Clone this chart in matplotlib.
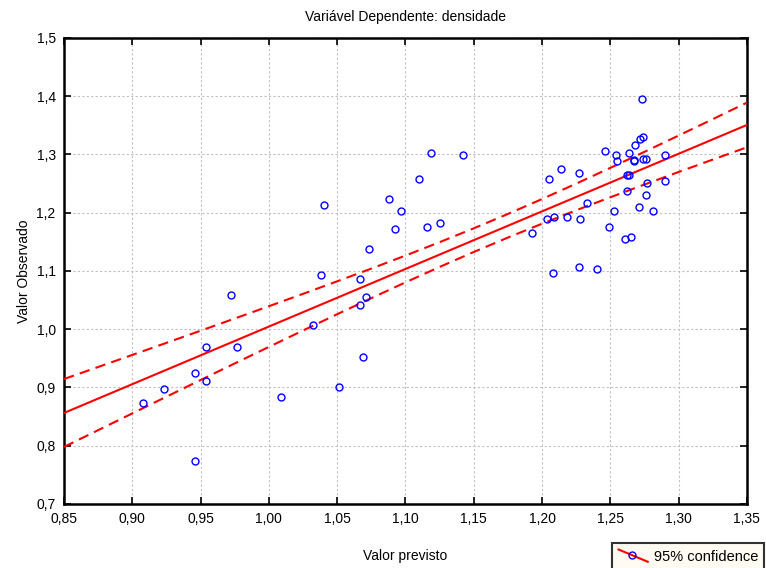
import numpy as np
import matplotlib.pyplot as plt
from matplotlib.lines import Line2D
from matplotlib.legend_handler import HandlerBase

plt.rcParams['font.family'] = ['Liberation Sans', 'DejaVu Sans']

valor_previsto = [
    0.972, 0.954, 0.977, 0.946, 0.954, 0.923, 0.908, 1.009, 0.946,
    1.119, 1.142, 1.110, 1.040, 1.088, 1.097, 1.092, 1.116, 1.125, 1.073,
    1.038, 1.067, 1.071, 1.067, 1.032, 1.069, 1.051,
    1.273, 1.274, 1.272, 1.268, 1.246, 1.254, 1.264, 1.290, 1.255, 1.267,
    1.267, 1.274, 1.276, 1.214, 1.227, 1.205, 1.262, 1.264, 1.277, 1.290,
    1.262, 1.276, 1.233, 1.271, 1.253, 1.281, 1.204, 1.209, 1.218, 1.228,
    1.193, 1.249, 1.261, 1.265, 1.208, 1.227, 1.240,
]
valor_observado = [
    1.059, 0.969, 0.969, 0.925, 0.911, 0.897, 0.873, 0.884, 0.774,
    1.303, 1.299, 1.258, 1.213, 1.224, 1.203, 1.172, 1.176, 1.182, 1.138,
    1.093, 1.086, 1.055, 1.042, 1.007, 0.952, 0.901,
    1.395, 1.330, 1.327, 1.316, 1.306, 1.299, 1.303, 1.299, 1.289, 1.291,
    1.289, 1.292, 1.292, 1.275, 1.268, 1.258, 1.265, 1.265, 1.251, 1.255,
    1.237, 1.230, 1.217, 1.210, 1.203, 1.203, 1.190, 1.193, 1.193, 1.189,
    1.165, 1.176, 1.155, 1.158, 1.097, 1.107, 1.103,
]

x_ticks = [0.85, 0.90, 0.95, 1.00, 1.05, 1.10, 1.15, 1.20, 1.25, 1.30, 1.35]
x_labels = ['0,85', '0,90', '0,95', '1,00', '1,05', '1,10', '1,15', '1,20',
            '1,25', '1,30', '1,35']
y_ticks = [0.7, 0.8, 0.9, 1.0, 1.1, 1.2, 1.3, 1.4, 1.5]
y_labels = ['0,7', '0,8', '0,9', '1,0', '1,1', '1,2', '1,3', '1,4', '1,5']

x = np.array(valor_previsto)
y = np.array(valor_observado)

# least squares fit and 95% confidence band of the mean
n = len(x)
slope, intercept = np.polyfit(x, y, 1)
resid = y - (intercept + slope * x)
s = np.sqrt(np.sum(resid ** 2) / (n - 2))
sxx = np.sum((x - x.mean()) ** 2)
t = 2.0
xs = np.linspace(0.85, 1.35, 21)
fit = intercept + slope * xs
half = t * s * np.sqrt(1 / n + (xs - x.mean()) ** 2 / sxx)


class DiagonalHandler(HandlerBase):
    # red line going down to the right with a blue ring on it
    def create_artists(self, legend, orig_handle, xdescent, ydescent,
                       width, height, fontsize, trans):
        line = Line2D([0, width], [height * 1.1, -height * 0.1],
                      color='#ff0000', linewidth=1.5, transform=trans)
        mark = Line2D([width * 0.45], [height * 0.55], marker='o',
                      markerfacecolor='none', markeredgecolor='#0000ff',
                      markersize=5, markeredgewidth=1, transform=trans)
        return [line, mark]


fig = plt.figure(figsize=(7.66, 5.68), dpi=100)
ax = fig.add_axes([0.0836, 0.1127, 0.8914, 0.8204])

ax.plot(xs, fit, color='#ff0000', linewidth=1.5, zorder=3)
ax.plot(xs, fit + half, color='#ff0000', linewidth=1.5, linestyle=(0, (5, 3)), zorder=3)
ax.plot(xs, fit - half, color='#ff0000', linewidth=1.5, linestyle=(0, (5, 3)), zorder=3)
ax.plot(x, y, 'o', markerfacecolor='none', markeredgecolor='#0000ff',
        markersize=5, markeredgewidth=1, zorder=4)

ax.set_xlim(0.85, 1.35)
ax.set_ylim(0.7, 1.5)
ax.set_xticks(x_ticks)
ax.set_xticklabels(x_labels)
ax.set_yticks(y_ticks)
ax.set_yticklabels(y_labels)
ax.tick_params(direction='in', top=True, right=True, length=5, width=1.2,
               labelsize=10, pad=6)
ax.grid(True, color='#c0c0c0', linestyle=(0, (2, 2)), linewidth=0.8)
for sp in ax.spines.values():
    sp.set_linewidth(1.8)

ax.set_xlabel('Valor previsto', fontsize=10, labelpad=16)
ax.set_ylabel('Valor Observado', fontsize=10, labelpad=4)
ax.set_title('Variável Dependente: densidade', fontsize=10, pad=12)

handle = Line2D([], [])
leg = fig.legend([handle], ['95% confidence'], loc='lower right',
                 bbox_to_anchor=(0.998, -0.004), fontsize=10.5, frameon=True,
                 fancybox=False, handlelength=2.0, handletextpad=0.4,
                 borderpad=0.45, borderaxespad=0,
                 handler_map={Line2D: DiagonalHandler()})
leg.get_frame().set_facecolor('#fffaf0')
leg.get_frame().set_edgecolor('black')
leg.get_frame().set_linewidth(1.5)

fig.savefig('out.png', dpi=100)
